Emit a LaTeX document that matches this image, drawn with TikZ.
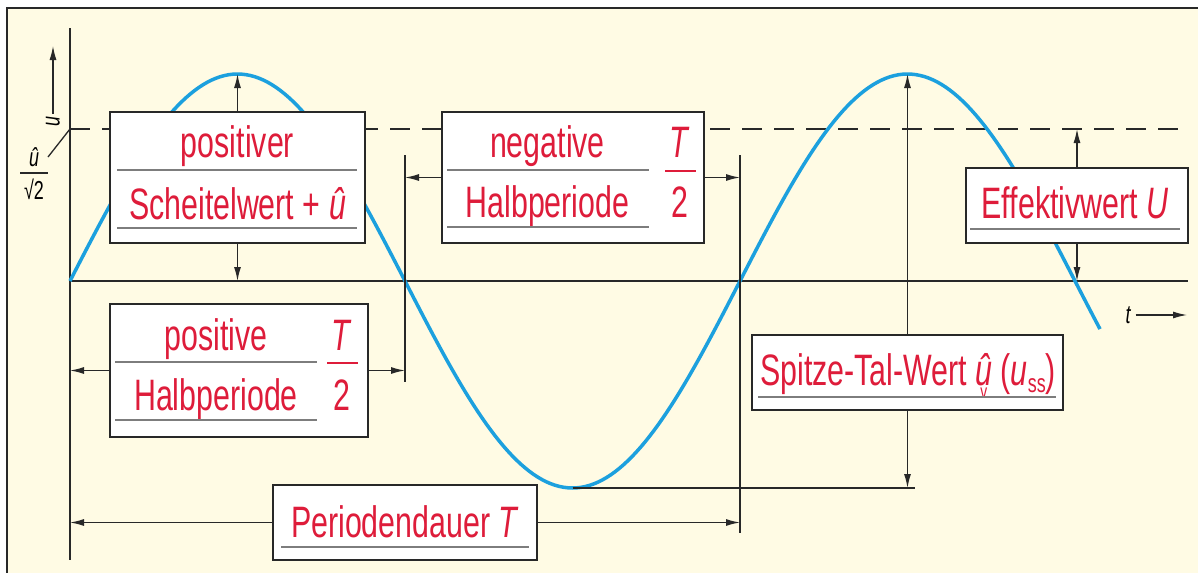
\documentclass[tikz,border=0pt]{standalone}
\usepackage{fontspec}
\setmainfont{Liberation Sans}[FakeStretch=0.69]
\usetikzlibrary{arrows.meta}

\definecolor{cream}{RGB}{255,251,228}
\definecolor{wavecol}{RGB}{28,160,222}
\definecolor{labred}{RGB}{222,28,58}
\definecolor{rulegray}{RGB}{125,125,125}
\definecolor{linedark}{RGB}{40,40,40}

\newcommand{\boxfont}{\fontsize{44}{48}\selectfont}
\newcommand{\axfont}{\fontsize{26}{28}\selectfont}
\newcommand{\uhatv}{\textit{û}\kern-8.5pt\raisebox{-13pt}{\makebox[0pt]{\fontsize{20}{20}\selectfont v}}\kern8.5pt}

\tikzset{
  valbox/.style={draw=linedark,line width=1.6pt,fill=white,inner sep=0pt},
  lbl/.style={text=labred,inner sep=0pt,anchor=base,font=\boxfont},
  uline/.style={draw=rulegray,line width=1.3pt},
  dimline/.style={draw=linedark,line width=1.3pt},
  arr/.style={-{Latex[length=14pt,width=7pt]}},
}

\begin{document}
\begin{tikzpicture}[x=1pt,y=-1pt]
\useasboundingbox (0,0) rectangle (1198,573);
\fill[cream] (7,8) rectangle (1198,573);
\draw[linedark,line width=1.3pt] (1198,8) -- (7,8) -- (7,573);

% axes
\coordinate (O) at (70,281);
\coordinate (Ueff) at (70,129);
\draw[dimline] (70,28) -- (70,560);
\draw[dimline] (O) -- (1188,281);
\draw[dimline,dash pattern=on 20pt off 12pt] (Ueff) -- (1188,129);

\node[rotate=90,font=\axfont\itshape,inner sep=3pt] (ulab) at (53,122) {u};
\coordinate (utop) at (53,46);
\draw[dimline,arr] (ulab.east) -- (utop);
\node[font=\axfont,inner sep=0pt] (uhat) at (34,157) {\textit{û}};
\draw[dimline] (20,173) -- (48,173);
\node[font=\axfont,inner sep=0pt] (sqrt) at (34,189) {√2};
\draw[dimline] (48,157) -- (Ueff);

\node[font=\axfont\itshape,inner sep=5pt] (tlab) at (1128,315) {t};
\coordinate (tend) at (1187,315);
\draw[dimline,arr] (tlab.east) -- (tend);

% wave
\draw[wavecol,line width=3.5pt] plot[domain=70:1100,samples=241] (\x,{281-207*sin((\x-70)/670*360)});

\coordinate (P1) at (237.5,74);
\coordinate (Z1) at (405,281);
\coordinate (V) at (572.5,488);
\coordinate (Z2) at (740,281);
\coordinate (P2) at (907.5,74);

\draw[dimline] (405,155) -- (405,382);
\draw[dimline] (740,155) -- (740,533);
\draw[dimline] (V) -- (915,488);

% positiver Scheitelwert
\node[valbox,minimum width=255pt,minimum height=131pt] (scheitel) at (237.5,177.5) {};
\node[lbl] at (237.5,157) {positiver};
\draw[uline] (117,170) -- (357,170);
\node[lbl] at (237.5,219) {Scheitelwert + \textit{û}};
\draw[uline] (117,228) -- (357,228);
\draw[dimline,arr] (scheitel.north) -- (P1);
\draw[dimline,arr] (scheitel.south) -- (scheitel.south |- O);

% positive Halbperiode
\node[valbox,minimum width=258pt,minimum height=133pt] (halbpos) at (239,370.5) {};
\node[lbl] at (216,350) {positive};
\draw[uline] (115,362) -- (317,362);
\node[lbl] at (216,410) {Halbperiode};
\draw[uline] (115,420) -- (317,420);
\node[lbl] at (342,350) {\textit{T}};
\draw[labred,line width=1.3pt] (327,363) -- (358,363);
\node[lbl] at (342,410) {2};
\draw[dimline,arr] (halbpos.west) -- (halbpos.west -| O);
\draw[dimline,arr] (halbpos.east) -- (halbpos.east -| Z1);

% negative Halbperiode
\node[valbox,minimum width=262pt,minimum height=131pt] (halbneg) at (573,177.5) {};
\node[lbl] at (547.5,157) {negative};
\draw[uline] (447,170) -- (649,170);
\node[lbl] at (547.5,217) {Halbperiode};
\draw[uline] (447,227) -- (649,227);
\node[lbl] at (680,157) {\textit{T}};
\draw[labred,line width=1.3pt] (665,171) -- (696,171);
\node[lbl] at (680,217) {2};
\draw[dimline,arr] (halbneg.west) -- (halbneg.west -| Z1);
\draw[dimline,arr] (halbneg.east) -- (halbneg.east -| Z2);

% Effektivwert
\node[valbox,minimum width=222pt,minimum height=75pt] (effektiv) at (1077,205.5) {};
\node[lbl] at (1075,218) {Effektivwert \textit{U}};
\draw[uline] (970,229) -- (1180,229);
\draw[dimline,arr] (effektiv.north) -- (effektiv.north |- Ueff);
\draw[dimline,arr] (effektiv.south) -- (effektiv.south |- O);

% Spitze-Tal-Wert
\node[valbox,minimum width=311pt,minimum height=75pt] (spitze) at (907.5,372.5) {};
\node[lbl] at (908,385) {Spitze-Tal-Wert \uhatv\ (\textit{u}\raisebox{-7pt}{\fontsize{26}{26}\selectfont ss})};
\draw[uline] (758,397) -- (1056,397);
\draw[dimline,arr] (spitze.north) -- (P2);
\draw[dimline,arr] (spitze.south) -- (spitze.south |- V);

% Periodendauer
\node[valbox,minimum width=264pt,minimum height=75pt] (periode) at (405,522.5) {};
\node[lbl] at (405,537) {Periodendauer \textit{T}};
\draw[uline] (281,547) -- (529,547);
\draw[dimline,arr] (periode.west) -- (periode.west -| O);
\draw[dimline,arr] (periode.east) -- (periode.east -| Z2);
\end{tikzpicture}
\end{document}
